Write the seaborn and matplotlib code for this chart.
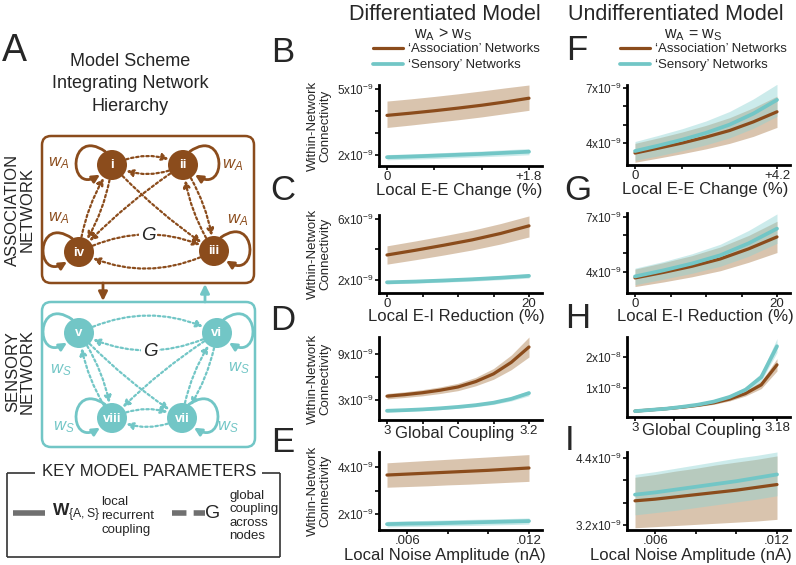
import numpy as np
import pandas as pd
import matplotlib
matplotlib.use("Agg")
import matplotlib.pyplot as plt
import seaborn as sns
from matplotlib.patches import FancyBboxPatch, Circle, FancyArrowPatch
from matplotlib.path import Path
from matplotlib.lines import Line2D

sns.set_style("ticks")
plt.rcParams['font.family'] = ['Liberation Sans', 'DejaVu Sans']
plt.rcParams['mathtext.fontset'] = 'custom'
plt.rcParams['mathtext.rm'] = 'Liberation Sans'
plt.rcParams['mathtext.it'] = 'Liberation Sans:italic'
plt.rcParams['mathtext.bf'] = 'Liberation Sans:bold'

# ---------------- data: within-network connectivity ----------------
networks = ["\u2018Association\u2019 Networks", "\u2018Sensory\u2019 Networks"]

# B: local E-E change (%), values x1e-9
B_x = [0, 0.3, 0.6, 0.9, 1.2, 1.5, 1.8]
B_assoc = [3.80, 3.90, 4.01, 4.13, 4.26, 4.41, 4.58]
B_assoc_lo = [3.25, 3.36, 3.48, 3.60, 3.73, 3.88, 4.03]
B_assoc_hi = [4.45, 4.55, 4.66, 4.78, 4.91, 5.05, 5.18]
B_sens = [1.90, 1.93, 1.97, 2.01, 2.05, 2.10, 2.15]
B_sens_lo = [1.78, 1.81, 1.84, 1.88, 1.92, 1.96, 2.01]
B_sens_hi = [2.02, 2.05, 2.09, 2.14, 2.18, 2.24, 2.29]

# C: local E-I reduction (%), x1e-9
C_x = [0, 4, 8, 12, 16, 20]
C_assoc = [3.64, 3.95, 4.28, 4.63, 5.05, 5.55]
C_assoc_lo = [3.04, 3.33, 3.64, 3.97, 4.36, 4.82]
C_assoc_hi = [4.24, 4.56, 4.90, 5.26, 5.70, 6.20]
C_sens = [1.85, 1.90, 1.97, 2.05, 2.15, 2.27]
C_sens_lo = [1.75, 1.80, 1.86, 1.93, 2.02, 2.13]
C_sens_hi = [1.95, 2.00, 2.08, 2.17, 2.28, 2.41]

# D: global coupling, x1e-9
D_x = [3.0, 3.025, 3.05, 3.075, 3.1, 3.125, 3.15, 3.175, 3.2]
D_assoc = [3.50, 3.70, 3.95, 4.28, 4.70, 5.40, 6.40, 7.90, 9.90]
D_assoc_lo = [3.15, 3.33, 3.55, 3.85, 4.22, 4.85, 5.70, 6.95, 8.60]
D_assoc_hi = [3.85, 4.07, 4.35, 4.71, 5.18, 5.95, 7.10, 8.85, 11.2]
D_sens = [1.60, 1.68, 1.78, 1.92, 2.10, 2.33, 2.65, 3.15, 3.90]
D_sens_lo = [1.45, 1.52, 1.62, 1.75, 1.92, 2.13, 2.43, 2.88, 3.55]
D_sens_hi = [1.75, 1.84, 1.94, 2.09, 2.28, 2.53, 2.87, 3.42, 4.25]

# E: local noise amplitude (nA), x1e-9
E_x = [0.005, 0.006, 0.007, 0.008, 0.009, 0.010, 0.011, 0.012]
E_assoc = [3.66, 3.70, 3.74, 3.78, 3.82, 3.86, 3.91, 3.96]
E_assoc_lo = [3.14, 3.17, 3.20, 3.24, 3.27, 3.31, 3.35, 3.39]
E_assoc_hi = [4.18, 4.23, 4.28, 4.33, 4.38, 4.43, 4.48, 4.53]
E_sens = [1.57, 1.59, 1.60, 1.62, 1.64, 1.66, 1.68, 1.70]
E_sens_lo = [1.45, 1.47, 1.48, 1.50, 1.51, 1.53, 1.55, 1.57]
E_sens_hi = [1.69, 1.71, 1.73, 1.75, 1.77, 1.79, 1.81, 1.83]

# F: local E-E change (%), undifferentiated, x1e-9
F_x = [0, 0.7, 1.4, 2.1, 2.8, 3.5, 4.2]
F_assoc = [3.45, 3.72, 4.00, 4.32, 4.68, 5.15, 5.70]
F_assoc_lo = [2.95, 3.18, 3.42, 3.68, 3.98, 4.36, 4.85]
F_assoc_hi = [3.98, 4.28, 4.60, 4.96, 5.38, 5.92, 6.55]
F_sens = [3.56, 3.86, 4.18, 4.55, 5.00, 5.60, 6.35]
F_sens_lo = [3.05, 3.30, 3.58, 3.90, 4.28, 4.80, 5.45]
F_sens_hi = [4.08, 4.42, 4.78, 5.20, 5.72, 6.40, 7.20]

# G: local E-I reduction (%), undifferentiated, x1e-9
G_x = [0, 4, 8, 12, 16, 20]
G_assoc = [3.67, 3.97, 4.30, 4.70, 5.25, 5.90]
G_assoc_lo = [3.20, 3.45, 3.73, 4.06, 4.52, 5.05]
G_assoc_hi = [4.15, 4.50, 4.88, 5.35, 5.98, 6.75]
G_sens = [3.75, 4.08, 4.45, 4.90, 5.55, 6.35]
G_sens_lo = [3.30, 3.60, 3.92, 4.30, 4.85, 5.55]
G_sens_hi = [4.20, 4.56, 4.98, 5.50, 6.25, 7.15]

# H: global coupling, undifferentiated, x1e-8
H_x = [3.0, 3.02, 3.04, 3.06, 3.08, 3.10, 3.12, 3.14, 3.16, 3.18]
H_assoc = [0.25, 0.29, 0.33, 0.38, 0.44, 0.52, 0.64, 0.82, 1.10, 1.75]
H_assoc_lo = [0.22, 0.26, 0.30, 0.34, 0.40, 0.47, 0.58, 0.74, 0.98, 1.55]
H_assoc_hi = [0.28, 0.32, 0.36, 0.42, 0.48, 0.57, 0.70, 0.90, 1.22, 1.95]
H_sens = [0.25, 0.29, 0.33, 0.39, 0.46, 0.56, 0.71, 0.94, 1.35, 2.35]
H_sens_lo = [0.22, 0.26, 0.30, 0.35, 0.41, 0.50, 0.64, 0.85, 1.22, 2.15]
H_sens_hi = [0.28, 0.32, 0.36, 0.43, 0.51, 0.62, 0.78, 1.03, 1.48, 2.60]

# I: local noise amplitude (nA), undifferentiated, x1e-9
I_x = [0.005, 0.006, 0.007, 0.008, 0.009, 0.010, 0.011, 0.012]
I_assoc = [3.63, 3.66, 3.70, 3.74, 3.78, 3.82, 3.87, 3.92]
I_assoc_lo = [3.15, 3.17, 3.19, 3.21, 3.23, 3.25, 3.27, 3.30]
I_assoc_hi = [4.05, 4.10, 4.16, 4.21, 4.27, 4.32, 4.37, 4.43]
I_sens = [3.74, 3.78, 3.83, 3.88, 3.93, 3.98, 4.04, 4.10]
I_sens_lo = [3.38, 3.42, 3.46, 3.51, 3.56, 3.61, 3.66, 3.72]
I_sens_hi = [4.10, 4.15, 4.21, 4.27, 4.33, 4.39, 4.44, 4.50]

# ---------------- style ----------------
BR = "#8b4c1c"
CY = "#72c6c6"
BR_BAND = "#b58a5e"
CY_BAND = "#8fd3d3"

W, H = 796, 565
fig = plt.figure(figsize=(W / 100, H / 100), dpi=100)
fig.patch.set_facecolor("white")
ax0 = fig.add_axes([0, 0, 1, 1], zorder=0)
ax0.set_xlim(0, W)
ax0.set_ylim(H, 0)
ax0.axis("off")


def rect(x0, y0, x1, y1):
    return [x0 / W, 1 - y1 / H, (x1 - x0) / W, (y1 - y0) / H]


def sci(v, e):
    return f"{v}x10$^{{{e}}}$"


def panel(rc, x, a, alo, ahi, s, slo, shi, scale, ylim, yticks, ylabels,
          xticks, xlabels, xlabel, xlab_off, xlab_cx, ylab=True):
    ax = fig.add_axes(rect(*rc), zorder=2)
    ax.patch.set_alpha(0)
    x = np.asarray(x, float)
    span = x[-1] - x[0]
    wpx = rc[2] - rc[0]
    hpx = rc[3] - rc[1]
    ax.fill_between(x, np.asarray(alo) * scale, np.asarray(ahi) * scale,
                    color=BR_BAND, alpha=0.5, lw=0)
    ax.fill_between(x, np.asarray(slo) * scale, np.asarray(shi) * scale,
                    color=CY_BAND, alpha=0.45, lw=0)
    df = pd.DataFrame({"x": np.concatenate([x, x]),
                       "y": np.concatenate([np.asarray(a), np.asarray(s)]) * scale,
                       "net": [networks[0]] * len(x) + [networks[1]] * len(x)})
    sns.lineplot(data=df[df.net == networks[0]], x="x", y="y", color=BR,
                 linewidth=2.3, ax=ax, errorbar=None)
    sns.lineplot(data=df[df.net == networks[1]], x="x", y="y", color=CY,
                 linewidth=2.7, ax=ax, errorbar=None)
    ax.set_xlim(x[0] - 8 * span / (wpx - 21), x[-1] + 13 * span / (wpx - 21))
    ax.set_ylim(ylim[0] * scale, ylim[1] * scale)
    ax.set_yticks(np.asarray(yticks) * scale, labels=ylabels)
    ax.set_xticks(xticks, labels=xlabels)
    sns.despine(ax=ax)
    for sp in ("left", "bottom"):
        ax.spines[sp].set_linewidth(2.0)
        ax.spines[sp].set_color("black")
    ax.tick_params(axis="y", direction="out", length=3, width=1.2,
                   labelsize=8.5, pad=0.8, color="black")
    ax.tick_params(axis="x", direction="out", length=3, width=1.2,
                   labelsize=9.5, pad=0.5, color="black")
    ax.set_xlabel(xlabel, fontsize=12, va="top")
    ax.xaxis.set_label_coords((xlab_cx - rc[0]) / wpx, -xlab_off / hpx)
    if ylab:
        ax.set_ylabel("Within-Network\nConnectivity", fontsize=9.5,
                      linespacing=1.0)
        ax.yaxis.set_label_coords(-48 / wpx, 0.5)
    else:
        ax.set_ylabel("")
    return ax


L = (379, 542)
R = (627, 790)

axB = panel((L[0], 85, L[1], 166), B_x, B_assoc, B_assoc_lo, B_assoc_hi,
            B_sens, B_sens_lo, B_sens_hi, 1e-9, (1.5, 5.18), [2, 3, 4, 5],
            [sci(2, -9), "", "", sci(5, -9)], [0, 0.6, 1.2, 1.8],
            ["0", "", "", "+1.8"], "Local E-E Change (%)", 17, 459)
panel((L[0], 215, L[1], 293), C_x, C_assoc, C_assoc_lo, C_assoc_hi,
      C_sens, C_sens_lo, C_sens_hi, 1e-9, (1.15, 6.26), [2, 4, 6],
      [sci(2, -9), "", sci(6, -9)], [0, 5, 10, 15, 20],
      ["0", "", "", "", "20"], "Local E-I Reduction (%)", 16, 456)
panel((L[0], 337, L[1], 420), D_x, D_assoc, D_assoc_lo, D_assoc_hi,
      D_sens, D_sens_lo, D_sens_hi, 1e-9, (0.4, 11.2), [3, 6, 9],
      [sci(3, -9), "", sci(9, -9)], [3.0, 3.05, 3.1, 3.15, 3.2],
      ["3", "", "", "", "3.2"], "Global Coupling", 6, 455)
panel((L[0], 452, L[1], 530), E_x, E_assoc, E_assoc_lo, E_assoc_hi,
      E_sens, E_sens_lo, E_sens_hi, 1e-9, (1.32, 4.64), [2, 3, 4],
      [sci(2, -9), "", sci(4, -9)], [0.006, 0.008, 0.010, 0.012],
      [".006", "", "", ".012"], "Local Noise Amplitude (nA)", 18, 445)

axF = panel((R[0], 85, R[1], 165), F_x, F_assoc, F_assoc_lo, F_assoc_hi,
            F_sens, F_sens_lo, F_sens_hi, 1e-9, (2.8, 7.16), [4, 5, 6, 7],
            [sci(4, -9), "", "", sci(7, -9)], [0, 1.4, 2.8, 4.2],
            ["0", "", "", "+4.2"], "Local E-E Change (%)", 17, 705, ylab=False)
panel((R[0], 213, R[1], 293), G_x, G_assoc, G_assoc_lo, G_assoc_hi,
      G_sens, G_sens_lo, G_sens_hi, 1e-9, (2.85, 7.2), [4, 5, 6, 7],
      [sci(4, -9), "", "", sci(7, -9)], [0, 5, 10, 15, 20],
      ["0", "", "", "", "20"], "Local E-I Reduction (%)", 16, 705, ylab=False)
panel((R[0], 337, R[1], 417), H_x, H_assoc, H_assoc_lo, H_assoc_hi,
      H_sens, H_sens_lo, H_sens_hi, 1e-8, (0.06, 2.65), [1, 2],
      [sci(1, -8), sci(2, -8)], [3.0, 3.05, 3.1, 3.15, 3.18],
      ["3", "", "", "", "3.18"], "Global Coupling", 6, 702, ylab=False)
panel((R[0], 452, R[1], 530), I_x, I_assoc, I_assoc_lo, I_assoc_hi,
      I_sens, I_sens_lo, I_sens_hi, 1e-9, (3.11, 4.5), [3.2, 3.6, 4.0, 4.4],
      [sci(3.2, -9), "", "", sci(4.4, -9)], [0.006, 0.008, 0.010, 0.012],
      [".006", "", "", ".012"], "Local Noise Amplitude (nA)", 18, 691, ylab=False)

# legends
handles = [Line2D([], [], color=BR, lw=2.3), Line2D([], [], color=CY, lw=2.7)]
for ax, x0 in ((axB, 373), (axF, 620)):
    ax.legend(handles, networks, loc="upper left",
              bbox_to_anchor=(x0 / W, 1 - 43 / H), bbox_transform=fig.transFigure,
              frameon=False, fontsize=9.5, handlelength=2.25, handletextpad=0.4,
              labelspacing=0.3, borderpad=0, borderaxespad=0)

# titles
ax0.text(445, 14, "Differentiated Model", fontsize=15.5, ha="center", va="center")
ax0.text(676, 14, "Undifferentiated Model", fontsize=15.5, ha="center", va="center")
ax0.text(443, 35, r"w$_\mathregular{A}$ > w$_\mathregular{S}$", fontsize=11.5,
         ha="center", va="center")
ax0.text(693, 35, r"w$_\mathregular{A}$ = w$_\mathregular{S}$", fontsize=11.5,
         ha="center", va="center")

# panel letters
for s, x, y in (("B", 283, 52), ("C", 283, 190), ("D", 283, 320), ("E", 283, 442),
                ("F", 577, 51), ("G", 578, 190), ("H", 578, 319), ("I", 570, 440)):
    ax0.text(x, y, s, fontsize=25, ha="center", va="center")
ax0.text(14, 51, "A", fontsize=27, ha="center", va="center")

# ---------------- panel A schematic ----------------
ax0.text(130, 84, "Model Scheme\nIntegrating Network\nHierarchy", fontsize=13,
         ha="center", va="center", linespacing=1.45)

ax0.add_patch(FancyBboxPatch((42, 136), 212, 147, boxstyle="round,pad=0,rounding_size=9",
                             ec=BR, fc="none", lw=1.8, zorder=1))
ax0.add_patch(FancyBboxPatch((42, 302), 213, 145, boxstyle="round,pad=0,rounding_size=9",
                             ec=CY, fc="none", lw=1.8, zorder=1))
ax0.text(20, 210, "ASSOCIATION\nNETWORK", rotation=90, fontsize=12, ha="center",
         va="center", linespacing=0.95)
ax0.text(20, 372, "SENSORY\nNETWORK", rotation=90, fontsize=12, ha="center",
         va="center", linespacing=0.95)

ax0.add_patch(FancyArrowPatch((103, 283), (103, 301), arrowstyle="-|>", mutation_scale=13,
                              lw=2, color=BR, shrinkA=0, shrinkB=0))
ax0.add_patch(FancyArrowPatch((205, 302), (205, 284), arrowstyle="-|>", mutation_scale=13,
                              lw=2, color=CY, shrinkA=0, shrinkB=0))

RN = 15
assoc_nodes = [("i", (112, 165), -1), ("ii", (183, 165), 1),
               ("iii", (214, 251), 1), ("iv", (79, 252), -1)]
sens_nodes = [("v", (79, 333), -1), ("vi", (217, 333), 1),
              ("vii", (182, 418), 1), ("viii", (112, 418), -1)]


def self_loop(c, side, color):
    cx, cy = c
    r = RN
    pts = [(cx + side * 0.45 * r, cy - 0.9 * r), (cx + side * 2.9 * r, cy - 2.6 * r),
           (cx + side * 3.0 * r, cy + 2.0 * r), (cx + side * 0.8 * r, cy + 0.65 * r)]
    p = Path(pts, [Path.MOVETO, Path.CURVE4, Path.CURVE4, Path.CURVE4])
    ax0.add_patch(FancyArrowPatch(path=p, arrowstyle="-|>", mutation_scale=11,
                                  lw=2.0, color=color, zorder=3))


def link(pA, pB, rad, color, head=True):
    ax0.add_patch(FancyArrowPatch(pA, pB, connectionstyle=f"arc3,rad={rad}",
                                  arrowstyle="-|>" if head else "-", mutation_scale=10,
                                  shrinkA=11, shrinkB=11, lw=1.6,
                                  linestyle=(0, (1.1, 1.2)), color=color, zorder=2))


def network(nodes, color, gpos, wlabel, wpos):
    pos = [p for _, p, _ in nodes]
    for k in range(4):
        a, b = pos[k], pos[(k + 1) % 4]
        rad = -0.25 if k % 2 == 0 else -0.12
        link(a, b, rad, color)
        link(b, a, rad, color)
    link(pos[0], pos[2], 0.06, color)
    link(pos[1], pos[3], 0.06, color)
    for name, p, side in nodes:
        self_loop(p, side, color)
        ax0.add_patch(Circle(p, RN, fc=color, ec="none", zorder=4))
        ax0.text(p[0], p[1] + 0.5, name, color="white", fontsize=9.5, fontweight="bold",
                 ha="center", va="center", zorder=5)
    ax0.text(gpos[0], gpos[1], "G", fontsize=13.5, style="italic", ha="center",
             va="center", zorder=5,
             bbox=dict(boxstyle="square,pad=0.1", fc="white", ec="none"))
    for (x, y) in wpos:
        ax0.text(x, y, wlabel, fontsize=12, color=color, ha="center", va="center", zorder=5)


network(assoc_nodes, BR, (148, 235), r"$w_A$",
        [(59, 163), (59, 218), (233, 165), (238, 220)])
network(sens_nodes, CY, (150, 352), r"$w_S$",
        [(61, 370), (64, 427), (239, 368), (228, 427)])

# key box
KC = "#333333"
for xs, ys in (([7, 35], [473, 473]), ([262, 280], [473, 473]), ([280, 280], [473, 557]),
               ([280, 7], [557, 557]), ([7, 7], [557, 473])):
    ax0.plot(xs, ys, color=KC, lw=1.2, solid_capstyle="butt")
ax0.text(149, 472, "KEY MODEL PARAMETERS", fontsize=12, ha="center", va="center")
ax0.plot([13, 45], [513, 513], color="#707070", lw=4, solid_capstyle="butt")
ax0.text(52, 513, r"$\mathbf{W}_{\{\mathrm{A,S}\}}$", fontsize=12.5, ha="left", va="center")
ax0.text(101, 516, "local\nrecurrent\ncoupling", fontsize=9.5, ha="left", va="center",
         linespacing=1.2)
ax0.plot([172, 205], [513, 513], color="#707070", lw=4, linestyle=(0, (2.6, 1.3)))
ax0.text(213, 514, "G", fontsize=14, ha="center", va="center")
ax0.text(229, 516, "global\ncoupling\nacross\nnodes", fontsize=9.5, ha="left",
         va="center", linespacing=1.15)

fig.savefig("out.png", dpi=100, facecolor="white")
